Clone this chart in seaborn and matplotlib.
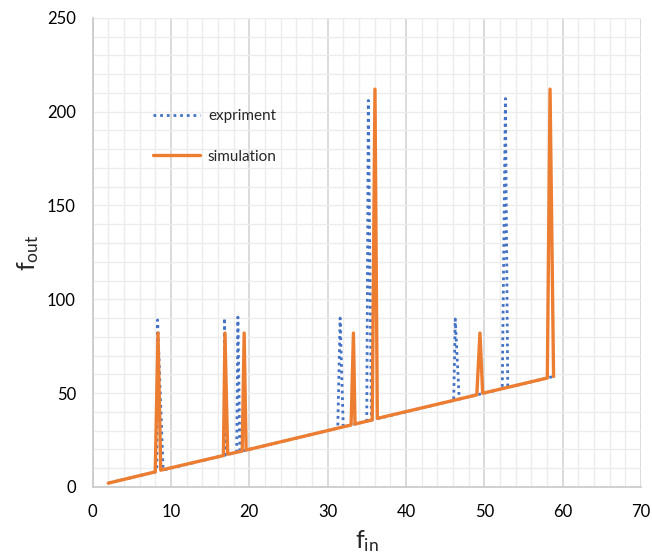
import matplotlib
matplotlib.use("Agg")
import matplotlib.pyplot as plt
from matplotlib.ticker import MultipleLocator
import seaborn as sns
import pandas as pd

# --- data ---
sim_x = [2, 8.0, 8.35, 8.7, 16.7, 16.9, 17.25, 19.1, 19.35, 19.6,
         33.0, 33.3, 33.5, 35.7, 36.05, 36.35, 49.05, 49.45, 49.8,
         58.05, 58.4, 58.85]
sim_y = [2, 8.0, 82, 8.9, 16.7, 82, 17.4, 19.1, 82, 19.6,
         33.0, 82, 33.5, 35.7, 212, 36.5, 49.05, 82, 49.9,
         58.05, 212, 58.8]

exp_x = [2, 8.2, 8.3, 9.0, 16.8, 16.85, 17.0, 18.4, 18.55, 18.8,
         31.3, 31.6, 32.0, 35.0, 35.2, 35.6, 46.1, 46.3, 46.8,
         52.3, 52.7, 53.0, 58.8]
exp_y = [2, 8.2, 89, 9.0, 16.8, 90, 17.0, 18.4, 90.5, 18.8,
         31.3, 90, 32.0, 35.0, 206, 35.6, 46.1, 89.5, 46.8,
         52.3, 207, 53.0, 58.8]

x_ticks = [0, 10, 20, 30, 40, 50, 60, 70]
y_ticks = [0, 50, 100, 150, 200, 250]

sns.set_style("white")
plt.rcParams['font.family'] = ['Lato', 'DejaVu Sans']
plt.rcParams['mathtext.default'] = 'regular'

fig = plt.figure(figsize=(6.52, 5.59), dpi=100)
ax = fig.add_axes([0.142, 0.129, 0.841, 0.839])

df_exp = pd.DataFrame({"x": exp_x, "y": exp_y})
df_sim = pd.DataFrame({"x": sim_x, "y": sim_y})

sns.lineplot(data=df_exp, x="x", y="y", sort=False, ax=ax, color="#4472C4",
             linewidth=2.0, linestyle=(0, (1, 1.4)), label="expriment", zorder=3)
sns.lineplot(data=df_sim, x="x", y="y", sort=False, ax=ax, color="#ED7D31",
             linewidth=2.4, label="simulation", zorder=4)

ax.set_xlim(0, 70)
ax.set_ylim(0, 250)
ax.set_xticks(x_ticks)
ax.set_yticks(y_ticks)
ax.xaxis.set_minor_locator(MultipleLocator(2))
ax.yaxis.set_minor_locator(MultipleLocator(10))
ax.grid(which="minor", axis="both", color="#ececec", linewidth=1.0)
ax.grid(which="major", axis="y", color="#ececec", linewidth=1.0)
ax.grid(which="major", axis="x", color="#d4d4d4", linewidth=1.2)
ax.set_axisbelow(True)
ax.tick_params(which="both", length=0, labelsize=12, colors="#000000")
ax.tick_params(axis="x", pad=12)
ax.tick_params(axis="y", pad=12)

for s in ["top", "right"]:
    ax.spines[s].set_visible(False)
for s in ["left", "bottom"]:
    ax.spines[s].set_color("#c8c8c8")
    ax.spines[s].set_linewidth(1.2)

ax.set_xlabel(r"f$_{in}$", fontsize=18, labelpad=6)
ax.set_ylabel(r"f$_{out}$", fontsize=18, labelpad=4)

leg = ax.legend(loc="upper left", bbox_to_anchor=(0.085, 0.835), frameon=False,
                fontsize=11, handlelength=3.1, labelspacing=1.75, handletextpad=0.5)

fig.savefig("out.png", dpi=100)
